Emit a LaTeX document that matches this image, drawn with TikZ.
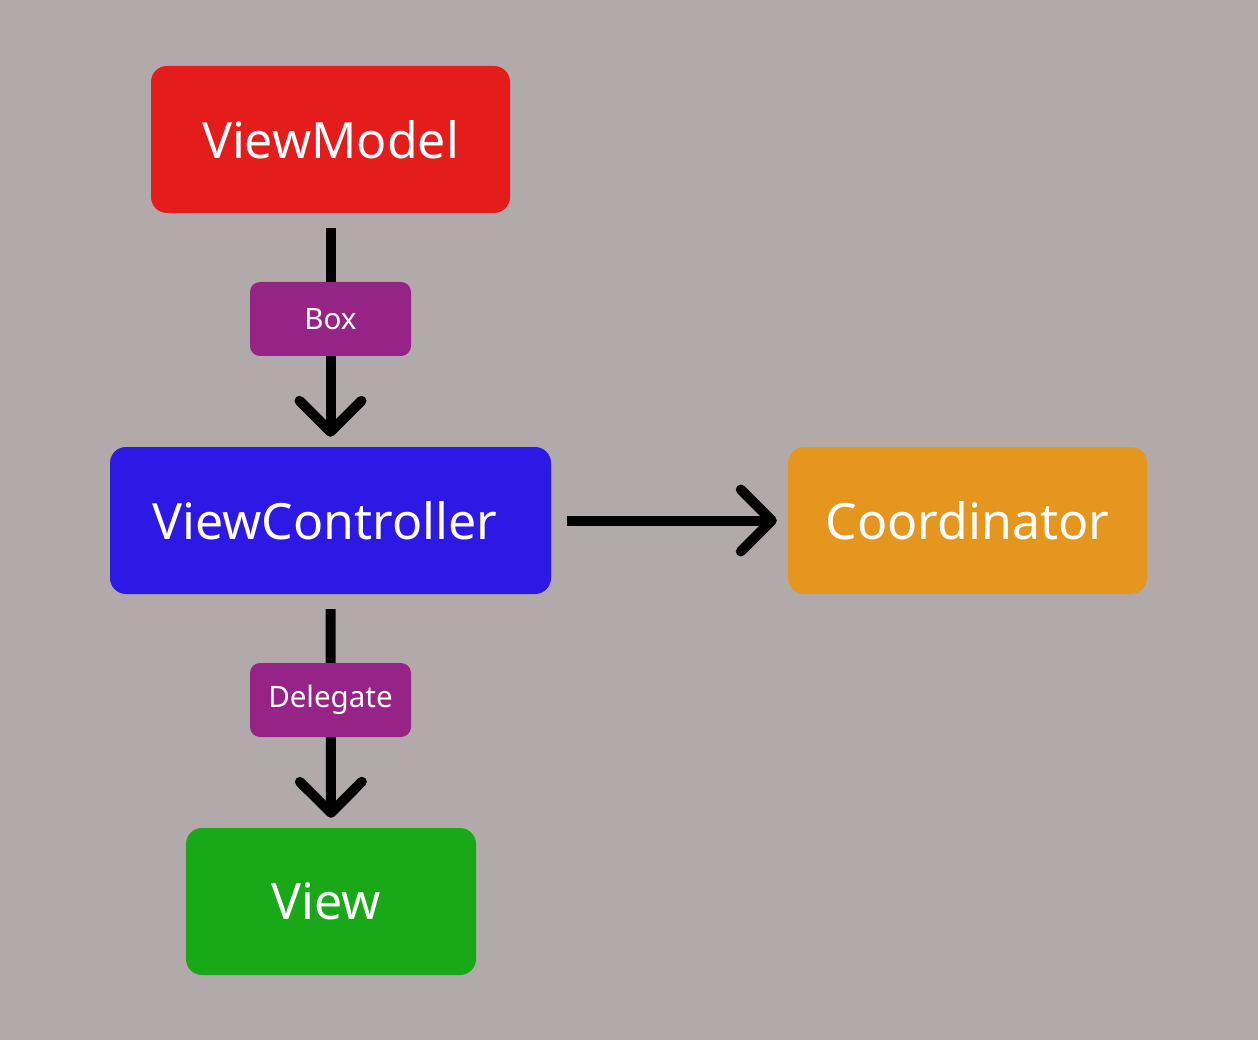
\documentclass[tikz,border=0pt]{standalone}
\usepackage{fontspec}
\setmainfont{Noto Sans}
\usetikzlibrary{arrows.meta}
\definecolor{bgc}{HTML}{B2AAAA}
\definecolor{vmred}{HTML}{E41C1C}
\definecolor{vcblue}{HTML}{2D19E6}
\definecolor{coorange}{HTML}{E5961E}
\definecolor{vgreen}{HTML}{18A818}
\definecolor{lblpurple}{HTML}{962487}
\begin{document}
\begin{tikzpicture}[x=1pt,y=-1pt,
  bigbox/.style={rectangle, rounded corners=16pt, text=white, inner sep=0pt,
    minimum height=147pt, font=\fontsize{50}{60}\selectfont},
  lblbox/.style={rectangle, rounded corners=10pt, fill=lblpurple, text=white, inner sep=0pt,
    minimum width=161pt, minimum height=74pt, font=\fontsize{29.5}{34}\selectfont},
  conn/.style={line width=10pt, -{Straight Barb[length=31pt, width=62pt, round]}}
]
\fill[bgc] (0,0) rectangle (1258,1040);
\useasboundingbox (0,0) rectangle (1258,1040);
\node[bigbox, fill=vmred, minimum width=359pt] (vm) at (330.5,139.5) {ViewModel};
\node[bigbox, fill=vcblue, minimum width=441pt] (vc) at (330.5,520.5) {\hspace*{-6pt}ViewController\hspace*{6pt}};
\node[bigbox, fill=coorange, minimum width=359pt] (co) at (967.5,520.5) {Coordinator};
\node[bigbox, fill=vgreen, minimum width=290pt] (v) at (331,901.5) {\hspace*{-5pt}View\hspace*{5pt}};
\draw[conn, shorten <=15pt, shorten >=10pt] (vm.south) -- (vc.north);
\draw[conn, shorten <=16pt, shorten >=11pt] (vc.east) -- (co.west);
\draw[conn, shorten <=15pt, shorten >=10pt] (vc.south) -- (v.north);
\node[lblbox] (box) at (330.5,319) {Box};
\node[lblbox] (del) at (330.5,700) {Delegate};
\end{tikzpicture}
\end{document}
